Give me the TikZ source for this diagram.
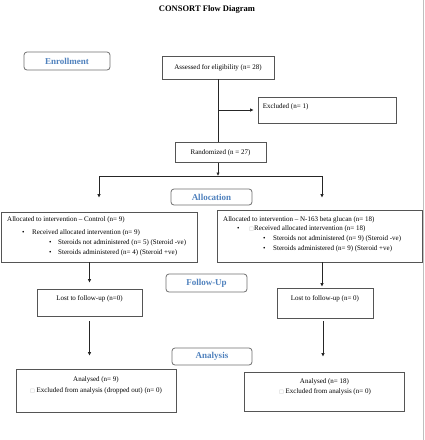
\documentclass[tikz,border=0pt]{standalone}
\usepackage{fontspec}
\setmainfont{Liberation Serif}
\newfontfamily\symfont{DejaVu Sans}
\usetikzlibrary{arrows.meta}
\definecolor{hblue}{RGB}{79,129,189}
\definecolor{bordergray}{RGB}{85,85,85}
\newcommand{\sq}{{\color{black!30}\symfont\fontsize{5}{5}\selectfont □}}
\begin{document}
\begin{tikzpicture}[x=1pt,y=-1pt,
  box/.style={draw=bordergray, line width=0.8pt, inner sep=0pt},
  stage/.style={draw=bordergray!85, rounded corners=3pt, line width=0.8pt,
    font=\fontsize{9}{10}\selectfont\bfseries, text=hblue, inner sep=0pt},
  txt/.style={font=\fontsize{7}{9}\selectfont, inner sep=0pt},
  ln/.style={anchor=base west, font=\fontsize{7}{9}\selectfont, inner sep=0pt},
  conn/.style={line width=0.8pt, draw=black!85},
  arr/.style={conn, -{Latex[length=3.5pt,width=3.5pt]}}
]
\useasboundingbox (0,0) rectangle (425,440);
\draw[black!25, line width=0.8pt] (423,0) -- (423,440);

\node[font=\fontsize{8.5}{10}\selectfont\bfseries, inner sep=0pt] (title) at (207,9) {CONSORT Flow Diagram};

% stage labels
\node[stage, minimum width=86pt, minimum height=18pt] (enroll) at (67,61) {Enrollment};
\node[stage, minimum width=81pt, minimum height=16pt] (alloc) at (211.5,197) {Allocation};
\node[stage, minimum width=81pt, minimum height=18pt] (follow) at (206.5,283) {Follow-Up};
\node[stage, minimum width=80pt, minimum height=17pt] (analysis) at (212,356.5) {Analysis};

% enrollment
\node[box, txt, minimum width=112pt, minimum height=23pt] (assess) at (218,67.5) {Assessed for eligibility (n= 28)};
\node[box, minimum width=138pt, minimum height=26pt] (excl) at (327,110) {};
\node[txt, anchor=west] (exclt) at ([xshift=5pt,yshift=3pt]excl.west) {Excluded (n= 1)};
\node[box, txt, minimum width=91pt, minimum height=20pt] (rand) at (220.5,152.5) {Randomized (n = 27)};

% allocation boxes
\node[box, minimum width=196pt, minimum height=50pt] (allocL) at (99,237) {};
\node[ln] (aL1) at (7,221.5) {Allocated to intervention – Control (n= 9)};
\node[ln] (aL2) at (22,234) {\makebox[10pt][l]{\textbullet}Received allocated intervention (n= 9)};
\node[ln] (aL3) at (49,244.5) {\makebox[9pt][l]{\textbullet}Steroids not administered (n= 5) (Steroid -ve)};
\node[ln] (aL4) at (49,254) {\makebox[9pt][l]{\textbullet}Steroids administered (n= 4) (Steroid +ve)};

\node[box, minimum width=205pt, minimum height=52pt] (allocR) at (319.5,236) {};
\node[ln] (aR1) at (223,221.5) {Allocated to intervention – N-163 beta glucan (n= 18)};
\node[ln] (aR2) at (237,230.6) {\makebox[12pt][l]{\textbullet}\makebox[5pt][l]{\sq}Received allocated intervention (n= 18)};
\node[ln] (aR3) at (263,240.6) {\makebox[10pt][l]{\textbullet}Steroids not administered (n= 9) (Steroid -ve)};
\node[ln] (aR4) at (263,250) {\makebox[10pt][l]{\textbullet}Steroids administered (n= 9) (Steroid +ve)};

% follow-up boxes
\node[box, minimum width=105pt, minimum height=27pt] (lostL) at (89.5,302.5) {};
\node[txt] (lostLt) at ([yshift=3.5pt]lostL.center) {Lost to follow-up (n=0)};
\node[box, minimum width=96pt, minimum height=30pt] (lostR) at (325,303) {};
\node[txt] (lostRt) at ([yshift=4.7pt]lostR.center) {Lost to follow-up (n= 0)};

% analysis boxes
\node[box, minimum width=160pt, minimum height=43pt] (anL) at (96,390.5) {};
\node[txt] (anL1) at (96,380) {Analysed (n= 9)};
\node[txt] (anL2) at (96,391) {\sq\ Excluded from analysis (dropped out) (n= 0)};
\node[box, minimum width=160pt, minimum height=39pt] (anR) at (324,391.5) {};
\node[txt] (anR1) at (324.5,381.7) {Analysed (n= 18)};
\node[txt] (anR2) at (325,391.7) {\sq\ Excluded from analysis (n= 0)};

% connectors
\coordinate (split) at (218,176);
\coordinate (sL) at (99,176);
\coordinate (sR) at (322,176);
\draw[conn] (assess.south) -- (assess.south |- rand.north);
\draw[arr, shorten >=4pt] (assess.south |- excl.west) -- (excl.west);
\draw[arr] (split |- rand.south) -- (split);
\draw[conn] (sL) -- (sR);
\draw[arr, shorten >=14pt] (sL) -- (sL |- allocL.north);
\draw[arr, shorten >=12pt] (sR) -- (sR |- allocR.north);
\draw[arr, shorten >=6pt] (lostL.north |- allocL.south) -- (lostL.north);
\draw[arr, shorten >=1pt] ([xshift=-3pt]lostR.north |- allocR.south) -- ([xshift=-3pt]lostR.north);
\draw[arr, shorten <=5pt, shorten >=13pt] (lostL.south) -- (lostL.south |- anL.north);
\draw[arr, shorten <=3pt, shorten >=15pt] ([xshift=-2pt]lostR.south) -- ([xshift=-2pt]lostR.south |- anR.north);
\end{tikzpicture}
\end{document}
